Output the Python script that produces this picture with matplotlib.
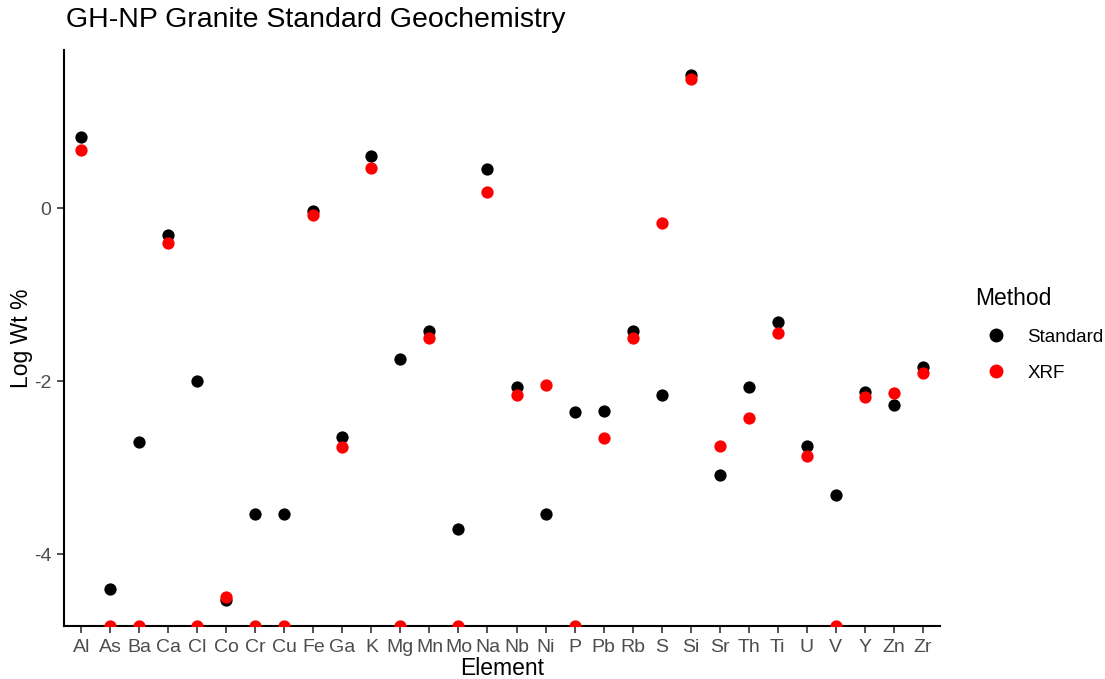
import numpy as np
import matplotlib
matplotlib.use("Agg")
import matplotlib.pyplot as plt
from matplotlib.lines import Line2D

plt.rcParams['font.family'] = ['Liberation Sans', 'DejaVu Sans']

elements = ['Al', 'As', 'Ba', 'Ca', 'Cl', 'Co', 'Cr', 'Cu', 'Fe', 'Ga',
            'K', 'Mg', 'Mn', 'Mo', 'Na', 'Nb', 'Ni', 'P', 'Pb', 'Rb',
            'S', 'Si', 'Sr', 'Th', 'Ti', 'U', 'V', 'Y', 'Zn', 'Zr']

# log10 wt% values
standard = [0.82, -4.40, -2.70, -0.31, -2.00, -4.53, -3.53, -3.53, -0.03, -2.64,
            0.60, -1.74, -1.42, -3.71, 0.45, -2.07, -3.53, -2.35, -2.34, -1.42,
            -2.16, 1.54, -3.08, -2.07, -1.32, -2.75, -3.31, -2.13, -2.27, -1.83]

# below-detection XRF values sit at the bottom of the axis
xrf_floor = -4.83
xrf = [0.67, xrf_floor, xrf_floor, -0.40, xrf_floor, -4.49, xrf_floor, xrf_floor, -0.08, -2.76,
       0.47, xrf_floor, -1.50, xrf_floor, 0.19, -2.16, -2.04, xrf_floor, -2.66, -1.50,
       -0.17, 1.50, -2.75, -2.42, -1.44, -2.87, xrf_floor, -2.18, -2.14, -1.91]

fig = plt.figure(figsize=(11.05, 6.79), dpi=100)
ax = fig.add_axes([64 / 1105, 1 - 626 / 679, (940 - 64) / 1105, (626 - 50) / 679])

x = np.arange(len(elements))
ax.scatter(x, standard, s=78, color='black', zorder=3, linewidths=0)
ax.scatter(x, xrf, s=78, color='red', zorder=4, linewidths=0)

ax.set_xlim(-0.6, len(elements) - 0.4)
ax.set_ylim(xrf_floor, 1.83)
ax.set_xticks(x)
ax.set_xticklabels(elements)
ax.set_yticks([-4, -2, 0])
ax.set_yticklabels(['-4', '-2', '0'])

for side in ['top', 'right']:
    ax.spines[side].set_visible(False)
for side in ['left', 'bottom']:
    ax.spines[side].set_linewidth(1.5)
    ax.spines[side].set_color('black')
ax.tick_params(axis='both', length=5, width=1.2, color='#333333',
               labelcolor='#4D4D4D', labelsize=14, pad=4)

ax.set_xlabel('Element', fontsize=16.5, labelpad=1)
ax.set_ylabel('Log Wt %', fontsize=16.5, labelpad=1)
fig.text(66 / 1105, 1 - 20 / 679, 'GH-NP Granite Standard Geochemistry',
         fontsize=20.5, va='center', ha='left')

handles = [Line2D([], [], marker='o', linestyle='', color='black', markersize=9),
           Line2D([], [], marker='o', linestyle='', color='red', markersize=9)]
leg = fig.legend(handles, ['Standard', 'XRF'], title='Method',
                 loc='upper left', bbox_to_anchor=(958 / 1105, 1 - 270 / 679),
                 frameon=False, fontsize=13.5, title_fontsize=16.5,
                 handlelength=2.2, handletextpad=0.6, labelspacing=1.0,
                 alignment='left')

fig.savefig('out.png', dpi=100)
